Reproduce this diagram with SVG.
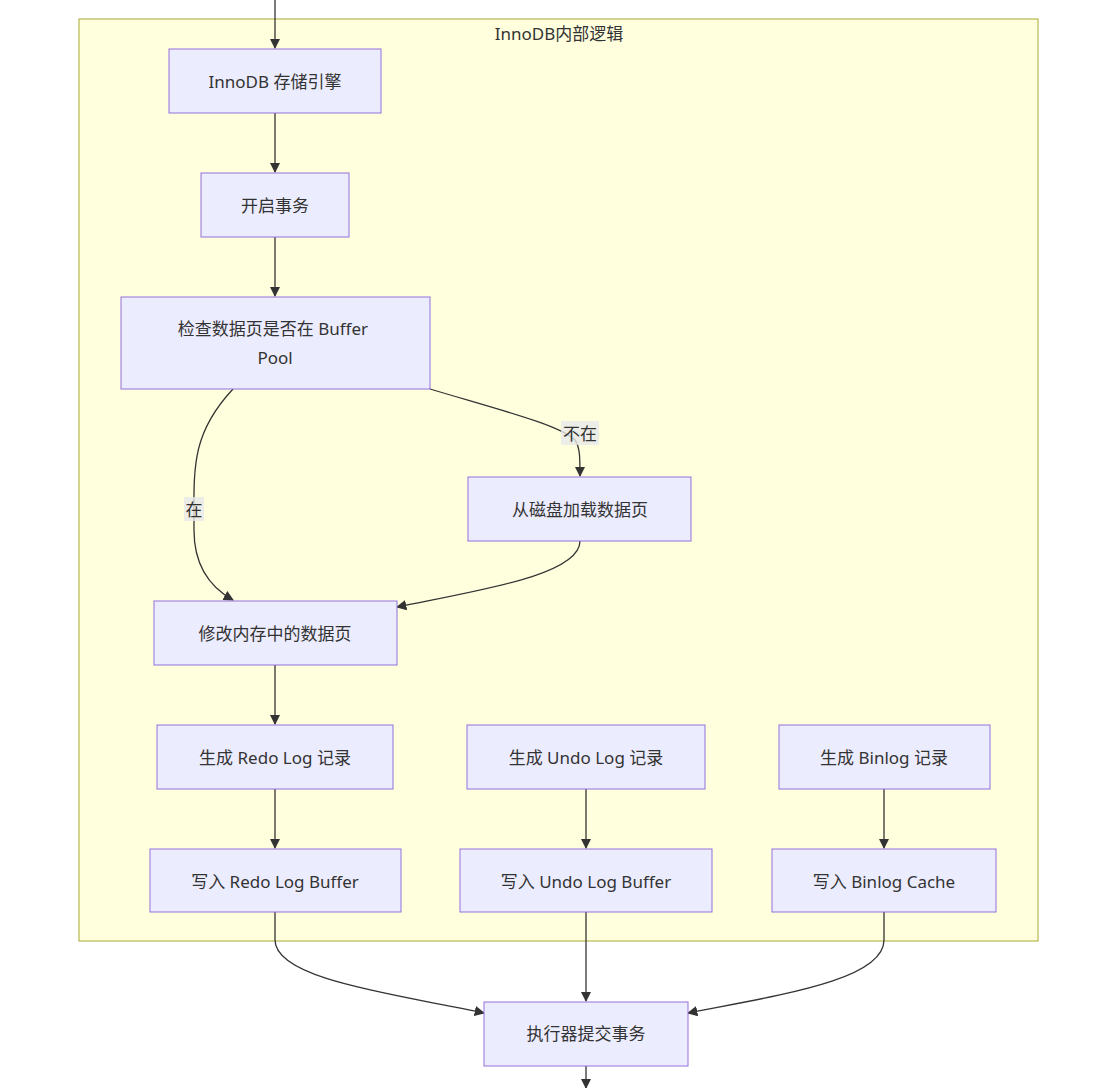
<svg xmlns="http://www.w3.org/2000/svg" width="1118" height="1088" viewBox="0 0 1118 1088">
<style>
.n rect{fill:#ECECFF;stroke:#9370DB;stroke-width:1}
text{font-family:"Noto Sans","Noto Sans CJK SC",sans-serif;font-size:17px;fill:#333;text-anchor:middle;dominant-baseline:central}
.e path{fill:none;stroke:#333;stroke-width:1.3;marker-end:url(#a)}
.lb{fill:rgba(232,232,232,0.8)}
</style>
<defs><marker id="a" viewBox="0 0 10 10" refX="9" refY="5" markerWidth="8" markerHeight="8" orient="auto"><path d="M0,0L10,5L0,10z" fill="#333"/></marker></defs>
<rect width="1118" height="1088" fill="#fff"/>
<g id="cluster"><rect x="79" y="19" width="959" height="922" fill="#ffffde" stroke="#aaaa33"/><text x="559" y="33">InnoDB内部逻辑</text></g>
<g class="e" id="edges">
<path d="M275,0V48"/>
<path d="M275,113V172"/>
<path d="M275,237V296"/>
<path d="M233,389C190,435 194,470 194,530C194,570 215,590 233,600"/>
<path d="M430,389C500,410 560,425 575,440C580,447 580,458 580,476"/>
<path d="M580,541C580,575 480,590 397,607"/>
<path d="M275,665V724"/>
<path d="M275,789V848"/>
<path d="M586,789V848"/>
<path d="M884,789V848"/>
<path d="M275,912V940C275,980 400,995 484,1013"/>
<path d="M586,912V1001"/>
<path d="M884,912V940C884,980 780,995 688,1013"/>
<path d="M586,1066V1088"/>
</g>
<rect class="lb" x="184" y="497" width="20" height="24"/><text x="194" y="509">在</text>
<rect class="lb" x="561" y="421" width="38" height="24"/><text x="580" y="433">不在</text>
<g class="n" id="A"><rect x="169" y="49" width="212" height="64"/><text x="275" y="81">InnoDB 存储引擎</text></g>
<g class="n" id="B"><rect x="201" y="173" width="148" height="64"/><text x="275" y="205">开启事务</text></g>
<g class="n" id="C"><rect x="121" y="297" width="309" height="92"/><text x="273" y="328">检查数据页是否在 Buffer</text><text x="275" y="357">Pool</text></g>
<g class="n" id="D"><rect x="468" y="477" width="223" height="64"/><text x="580" y="509">从磁盘加载数据页</text></g>
<g class="n" id="E"><rect x="154" y="601" width="243" height="64"/><text x="275" y="633">修改内存中的数据页</text></g>
<g class="n" id="F"><rect x="157" y="725" width="236" height="64"/><text x="275" y="757">生成 Redo Log 记录</text></g>
<g class="n" id="G"><rect x="467" y="725" width="238" height="64"/><text x="586" y="757">生成 Undo Log 记录</text></g>
<g class="n" id="H"><rect x="779" y="725" width="211" height="64"/><text x="884" y="757">生成 Binlog 记录</text></g>
<g class="n" id="I"><rect x="150" y="849" width="251" height="63"/><text x="275" y="881">写入 Redo Log Buffer</text></g>
<g class="n" id="J"><rect x="460" y="849" width="252" height="63"/><text x="586" y="881">写入 Undo Log Buffer</text></g>
<g class="n" id="K"><rect x="772" y="849" width="224" height="63"/><text x="884" y="881">写入 Binlog Cache</text></g>
<g class="n" id="L"><rect x="484" y="1002" width="204" height="64"/><text x="586" y="1033">执行器提交事务</text></g>
</svg>
